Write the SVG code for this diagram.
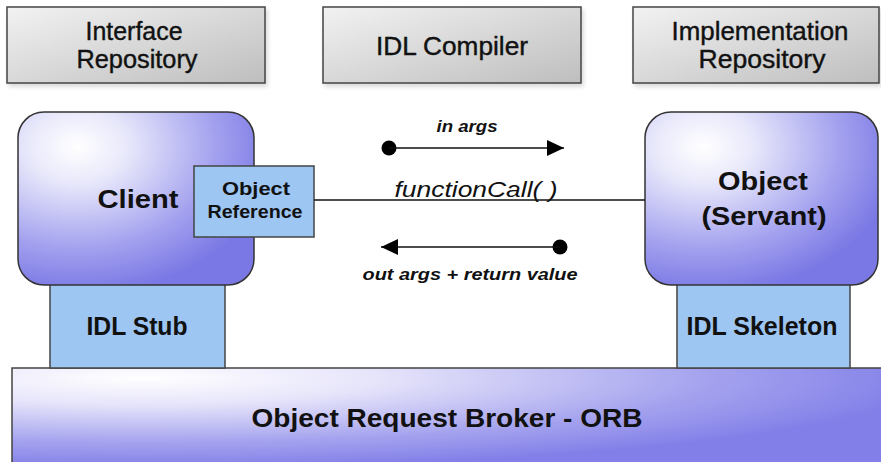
<svg xmlns="http://www.w3.org/2000/svg" width="881" height="462" viewBox="0 0 881 462">
  <defs>
    <linearGradient id="grayFill" x1="0" y1="0" x2="1" y2="1">
      <stop offset="0" stop-color="#f2f2f2"/>
      <stop offset="1" stop-color="#bebebe"/>
    </linearGradient>
    <radialGradient id="purpleFill" cx="0.25" cy="0.2" r="0.85" fx="0.25" fy="0.2">
      <stop offset="0" stop-color="#ffffff"/>
      <stop offset="0.25" stop-color="#e8e8fb"/>
      <stop offset="0.7" stop-color="#a2a0ee"/>
      <stop offset="1" stop-color="#7a78e4"/>
    </radialGradient>
    <radialGradient id="orbFill" cx="0.15" cy="0.1" r="0.9" fx="0.15" fy="0.1">
      <stop offset="0" stop-color="#ffffff"/>
      <stop offset="0.3" stop-color="#e6e4fa"/>
      <stop offset="0.72" stop-color="#a4a2ee"/>
      <stop offset="1" stop-color="#8280e8"/>
    </radialGradient>
    <marker id="arrowHead" viewBox="0 0 10 10" refX="10" refY="5" markerWidth="17" markerHeight="16" markerUnits="userSpaceOnUse" orient="auto" preserveAspectRatio="none">
      <path d="M0,0 L10,5 L0,10 z" fill="#000"/>
    </marker>
    <filter id="shadow" x="-5%" y="-5%" width="115%" height="125%">
      <feDropShadow dx="2" dy="3" stdDeviation="2" flood-color="#000" flood-opacity="0.15"/>
    </filter>
  </defs>
  <style>
    text { font-family: "Liberation Sans", Arial, sans-serif; fill: #111; text-anchor: middle; }
    .tool { fill: url(#grayFill); stroke: #444; stroke-width: 1.5; }
    .proc { fill: url(#purpleFill); stroke: #333; stroke-width: 1.5; }
    .idl { fill: #9ec6f2; stroke: #444; stroke-width: 1.5; }
    .top { font-size: 25px; stroke: #111; stroke-width: 0.4; }
    .big { font-size: 25px; font-weight: bold; }
    .lbl { font-size: 16px; font-weight: bold; font-style: italic; }
    .call { font-size: 22px; font-style: italic; }
    .wire { stroke: #111; stroke-width: 1.5; fill: none; }
  </style>

  <rect width="881" height="462" fill="#fff"/>

  <!-- service boxes along the top -->
  <g id="interface-repository">
    <rect class="tool" x="7" y="7" width="258" height="76" filter="url(#shadow)"/>
    <text class="top" x="134" y="40" textLength="97" lengthAdjust="spacingAndGlyphs">Interface</text>
    <text class="top" x="137" y="68" textLength="121" lengthAdjust="spacingAndGlyphs">Repository</text>
  </g>
  <g id="idl-compiler">
    <rect class="tool" x="323" y="7" width="258" height="76" filter="url(#shadow)"/>
    <text class="top" x="452" y="55" textLength="152" lengthAdjust="spacingAndGlyphs">IDL Compiler</text>
  </g>
  <g id="implementation-repository">
    <rect class="tool" x="633" y="7" width="246" height="76" filter="url(#shadow)"/>
    <text class="top" x="760" y="40" textLength="177" lengthAdjust="spacingAndGlyphs">Implementation</text>
    <text class="top" x="762" y="68" textLength="127" lengthAdjust="spacingAndGlyphs">Repository</text>
  </g>

  <!-- broker base -->
  <g id="orb">
    <rect x="12" y="368" width="875" height="100" fill="url(#orbFill)" stroke="#444" stroke-width="1.5"/>
    <text class="big" x="447" y="427" font-size="26" textLength="391" lengthAdjust="spacingAndGlyphs">Object Request Broker - ORB</text>
  </g>

  <!-- client side -->
  <g id="idl-stub">
    <rect class="idl" x="50" y="284" width="175" height="84"/>
    <text class="big" x="137" y="335" textLength="101" lengthAdjust="spacingAndGlyphs">IDL Stub</text>
  </g>
  <g id="client">
    <rect class="proc" x="18" y="112" width="236" height="173" rx="26" ry="26"/>
    <text class="big" x="138" y="208" textLength="81" lengthAdjust="spacingAndGlyphs">Client</text>
  </g>
  <g id="object-reference">
    <rect class="idl" x="194" y="166" width="120" height="71"/>
    <text x="256" y="195" font-size="19" font-weight="bold" textLength="68" lengthAdjust="spacingAndGlyphs">Object</text>
    <text x="255" y="218" font-size="19" font-weight="bold" textLength="95" lengthAdjust="spacingAndGlyphs">Reference</text>
  </g>

  <!-- server side -->
  <g id="idl-skeleton">
    <rect class="idl" x="677" y="284" width="173" height="84"/>
    <text class="big" x="762" y="335" textLength="151" lengthAdjust="spacingAndGlyphs">IDL Skeleton</text>
  </g>
  <g id="servant">
    <rect class="proc" x="645" y="112" width="233" height="173" rx="26" ry="26"/>
    <text class="big" x="763" y="190" textLength="90" lengthAdjust="spacingAndGlyphs">Object</text>
    <text class="big" x="764" y="225" textLength="125" lengthAdjust="spacingAndGlyphs">(Servant)</text>
  </g>

  <!-- invocation path and argument flows -->
  <g id="connectors">
    <line class="wire" x1="314" y1="200" x2="645" y2="200"/>
    <text class="call" x="476" y="197" textLength="163" lengthAdjust="spacingAndGlyphs">functionCall( )</text>

    <circle cx="389" cy="148" r="7.5" fill="#000"/>
    <line class="wire" x1="389" y1="148" x2="564" y2="148" marker-end="url(#arrowHead)"/>
    <text class="lbl" x="467" y="132" textLength="61" lengthAdjust="spacingAndGlyphs">in args</text>

    <circle cx="560" cy="247" r="7.5" fill="#000"/>
    <line class="wire" x1="560" y1="247" x2="381" y2="247" marker-end="url(#arrowHead)"/>
    <text class="lbl" x="470" y="280" textLength="215" lengthAdjust="spacingAndGlyphs">out args + return value</text>
  </g>
</svg>
